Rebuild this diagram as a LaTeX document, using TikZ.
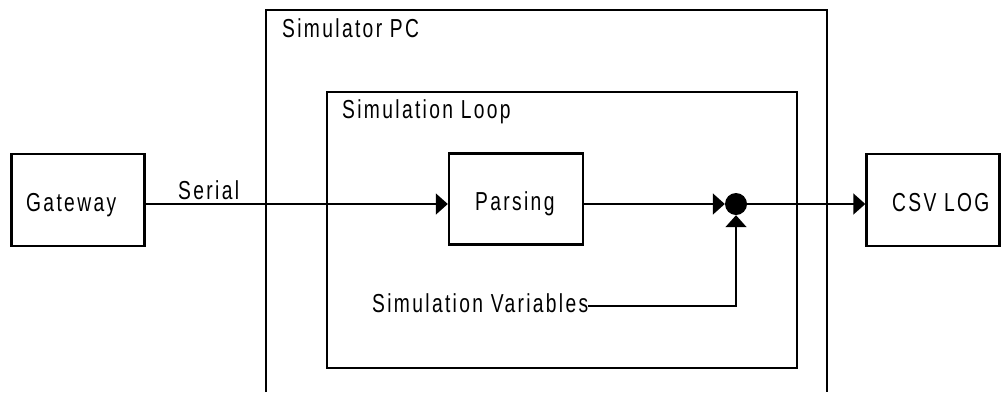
\documentclass[tikz,border=0pt]{standalone}
\usepackage{fontspec}
\setmainfont{Liberation Sans}[FakeStretch=0.74,LetterSpace=9]
\usetikzlibrary{arrows.meta}
\tikzset{
  blk/.style={draw, line width=2.4pt, inner sep=0pt},
  wire/.style={line width=1.6pt},
  tip/.style={-{Triangle[length=12pt,width=21pt]}},
  lbl/.style={font=\fontsize{26}{28}\selectfont, inner sep=0pt, anchor=base west},
}
\begin{document}
\begin{tikzpicture}[x=1pt,y=-1pt]
\useasboundingbox (0,0) rectangle (1006,392);
% computer enclosure, open at the bottom edge
\draw[line width=2.4pt] (266,392) -- (266,10) -- (827,10) -- (827,392);
\node[lbl] (pc) at (282,37) {Simulator PC};
% simulation loop frame
\node[blk, minimum width=470pt, minimum height=276pt] (loop) at (562,230) {};
\node[lbl] (looplbl) at (342,118) {Simulation Loop};
% blocks
\node[blk, minimum width=133pt, minimum height=92pt] (gw) at (78,200) {};
\node[lbl] (gwt) at (26,211) {Gateway};
\node[blk, minimum width=134pt, minimum height=91pt] (parse) at (516,199) {};
\node[lbl] (pt) at (475,210) {Parsing};
\node[blk, minimum width=133pt, minimum height=92pt] (csv) at (933,200) {};
\node[lbl] (ct) at (892,211) {CSV LOG};
% summing junction
\node[circle, fill, inner sep=0pt, minimum size=22pt] (sum) at (736,204) {};
\node[lbl] (vars) at (372,312) {Simulation Variables};
\coordinate (corner) at (736,306);
\node[lbl] (ser) at (178,199) {Serial};
% connectors
\draw[wire, tip] (gw.east |- 0,204) -- (parse.west |- 0,204);
\draw[wire, tip] (parse.east |- 0,204) -- (sum.west);
\draw[wire, tip] (vars.east |- corner) -- (corner) -- (sum.south);
\draw[wire, tip] (sum.east) -- (csv.west |- 0,204);
\end{tikzpicture}
\end{document}
